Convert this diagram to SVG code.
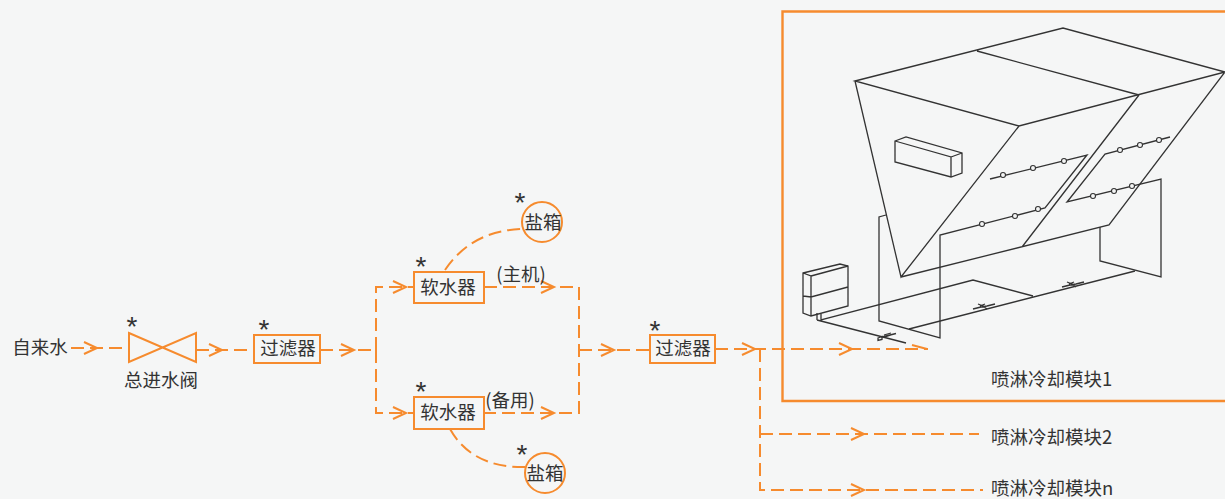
<svg xmlns="http://www.w3.org/2000/svg" width="1225" height="499" viewBox="0 0 1225 499">
<style>
text{font-family:"Noto Sans CJK SC","Liberation Sans",sans-serif;font-size:18.5px;fill:#333}
.mid{text-anchor:middle}
.star{font-family:"Liberation Sans",sans-serif;font-size:28px;text-anchor:middle;fill:#333}
.box{fill:none;stroke:#F68B2E;stroke-width:2}
.d{fill:none;stroke:#F68B2E;stroke-width:2;stroke-dasharray:13 6}
.c{fill:none;stroke:#F68B2E;stroke-width:2}
.k{fill:none;stroke:#333;stroke-width:1.3;stroke-linejoin:miter}
.o{fill:#F5F6F6;stroke:#333;stroke-width:1.1}
</style>
<defs>
<path id="a" class="c" d="M-13 -6L0 0L-13 6"/>
<path id="v" class="k" d="M-9 1L-5 -0.5L-5 2.5L-9 3.5ZM-5 0L9 -3.5M-3 -2L4 -4M-2 0L4 -2"/>
<path id="w" class="k" d="M-11 2L-3 0L3 -1L11 -3M-6 -3L-1 -1L3 2M-4 -1L1 -3"/>
</defs>
<rect width="1225" height="499" fill="#F5F6F6"/>
<g id="connectors">
<path class="d" d="M71 348H129"/><use href="#a" x="97" y="348"/>
<path class="d" d="M196 350H254"/><use href="#a" x="222" y="350"/>
<path class="d" d="M320 350H376"/><use href="#a" x="354" y="350"/>
<path class="d" d="M376 350V287H413"/><use href="#a" x="406" y="287"/>
<path class="d" d="M376 350V413H413"/><use href="#a" x="406" y="413"/>
<path class="d" d="M484 287H579V413H484"/><use href="#a" x="554" y="287"/><use href="#a" x="554" y="413"/>
<path class="d" d="M579 350H649"/><use href="#a" x="614" y="350"/>
<path class="d" d="M715 349H928"/><use href="#a" x="755" y="349"/><use href="#a" x="852" y="349"/>
<path class="c" d="M912 345L927 349"/>
<path class="d" d="M760 349V490H983"/><use href="#a" x="864" y="490"/>
<path class="d" d="M760 434H979"/><use href="#a" x="864" y="434"/>
<path class="d" d="M445 270Q472 230 523 229"/>
<path class="d" d="M450 429Q472 468 525 467"/>
</g>
<g id="module-frame"><path class="c" style="stroke-width:2.4" d="M1225 11.500H782.500V401H1225"/></g>
<g id="spray-unit">
<path class="k" d="M855 81L1063 28L1225 72L1019 126L855 81ZM977 51L1139 95M1019 126L901 277L855 81M1139 95L1022 247M901 277L1109 225L1225 72"/>
<path class="k" d="M895 141L906 137L962 153V173L951 177L895 162ZM895 141L951 157V177M951 157L962 153"/>
<path class="k" d="M990 179L1087 155L1045 208L940 235V338L879 321V217L886 215"/>
<path class="k" d="M1170 137L1105 154L1067 202L1161 179V277L1100 261V227"/>
<path class="k" d="M803 273L840 264L848 266V306L811 316L803 313ZM803 273L811 276V316M811 276L848 266M803 296L811 297L848 287"/>
<path class="k" d="M817 313V320M821 314V320L973 280L1033 296M817 320L906 343M909 329L1135 271"/>
<use href="#v" x="887" y="337"/><use href="#w" x="984" y="307"/><use href="#w" x="1073" y="285"/>
<circle class="o" cx="1003" cy="175" r="2.500"/><circle class="o" cx="1033" cy="168" r="2.500"/><circle class="o" cx="1064" cy="161" r="2.500"/>
<circle class="o" cx="982" cy="224" r="2.500"/><circle class="o" cx="1015" cy="216" r="2.500"/><circle class="o" cx="1038" cy="209" r="2.500"/>
<circle class="o" cx="1120" cy="150" r="2.500"/><circle class="o" cx="1140" cy="145" r="2.500"/><circle class="o" cx="1159" cy="140" r="2.500"/>
<circle class="o" cx="1093" cy="196" r="2.500"/><circle class="o" cx="1114" cy="191" r="2.500"/><circle class="o" cx="1132" cy="186" r="2.500"/>
</g>
<g id="source"><text class="mid" x="40" y="354">自来水</text></g>
<g id="valve">
<path class="box" d="M129 333L196 362V333L129 362Z"/>
<text class="star" x="132" y="336">*</text>
<text class="mid" x="161" y="387">总进水阀</text>
</g>
<g id="filter1">
<rect class="box" x="254" y="335" width="66" height="28"/>
<text class="star" x="264" y="339">*</text>
<text class="mid" x="288" y="355">过滤器</text>
</g>
<g id="softener1">
<rect class="box" x="414" y="272" width="70" height="31"/>
<text class="star" x="421" y="276">*</text>
<text class="mid" x="448" y="294">软水器</text>
<text class="mid" x="521" y="281">(主机)</text>
</g>
<g id="softener2">
<rect class="box" x="414" y="397" width="70" height="32"/>
<text class="star" x="421" y="401">*</text>
<text class="mid" x="448" y="419">软水器</text>
<text class="mid" x="510" y="407">(备用)</text>
</g>
<g id="salt1">
<circle class="box" cx="542" cy="222" r="20"/>
<text class="star" x="520" y="212">*</text>
<text class="mid" x="543" y="229">盐箱</text>
</g>
<g id="salt2">
<circle class="box" cx="545" cy="473" r="20"/>
<text class="star" x="522" y="464">*</text>
<text class="mid" x="545" y="480">盐箱</text>
</g>
<g id="filter2">
<rect class="box" x="650" y="335" width="65" height="28"/>
<text class="star" x="655" y="340">*</text>
<text class="mid" x="683" y="355">过滤器</text>
</g>
<g id="module1"><text x="991" y="386">喷淋冷却模块1</text></g>
<g id="module2"><text x="991" y="444">喷淋冷却模块2</text></g>
<g id="modulen"><text x="991" y="495">喷淋冷却模块n</text></g>
</svg>
